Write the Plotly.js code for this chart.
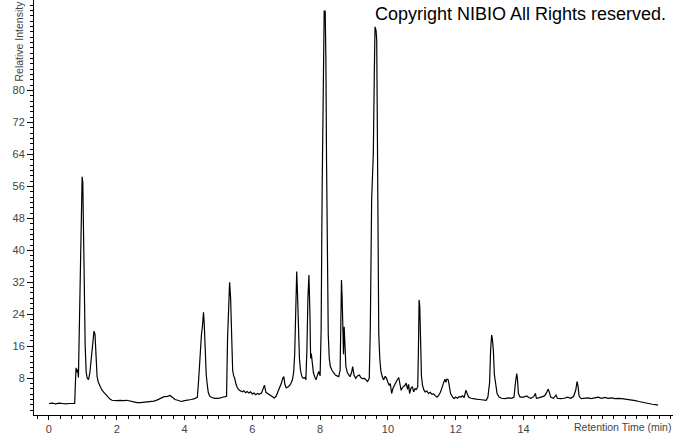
<!DOCTYPE html>
<html>
<head>
<meta charset="utf-8">
<script src="https://cdn.plot.ly/plotly-3.0.1.min.js"></script>
<style>html,body{margin:0;padding:0;background:#fff;}#chart{width:674px;height:434px;}</style>
</head>
<body>
<div id="chart"></div>
<script>
const retentionTime = [
  0.00,0.10,0.20,0.30,0.40,0.50,0.60,0.70,0.76,0.78,0.80,0.83,0.85,0.87,0.90,0.93,0.96,0.98,1.00,1.02,
  1.04,1.07,1.10,1.13,1.17,1.21,1.25,1.29,1.33,1.36,1.39,1.42,1.45,1.48,1.52,1.57,1.62,1.68,1.74,1.80,
  1.86,1.92,2.00,2.10,2.20,2.30,2.40,2.50,2.60,2.70,2.80,2.90,3.00,3.10,3.20,3.30,3.40,3.50,3.57,3.65,
  3.72,3.80,3.90,4.00,4.10,4.20,4.30,4.38,4.42,4.46,4.50,4.53,4.56,4.58,4.61,4.64,4.67,4.70,4.74,4.80,
  4.90,5.00,5.10,5.20,5.24,5.27,5.30,5.33,5.36,5.39,5.42,5.45,5.48,5.52,5.56,5.62,5.70,5.75,5.80,5.85,
  5.90,5.95,6.00,6.05,6.10,6.15,6.20,6.27,6.32,6.36,6.40,6.45,6.50,6.55,6.60,6.65,6.70,6.76,6.81,6.86,
  6.90,6.93,6.96,7.00,7.06,7.12,7.18,7.22,7.25,7.28,7.31,7.33,7.36,7.39,7.42,7.46,7.50,7.55,7.58,7.61,
  7.64,7.67,7.70,7.72,7.74,7.77,7.80,7.84,7.88,7.92,7.96,8.00,8.03,8.06,8.09,8.12,8.15,8.17,8.19,8.21,
  8.24,8.27,8.30,8.35,8.40,8.45,8.50,8.55,8.59,8.61,8.63,8.65,8.67,8.69,8.71,8.73,8.76,8.80,8.85,8.88,
  8.93,8.96,9.00,9.05,9.10,9.16,9.20,9.25,9.31,9.36,9.40,9.45,9.48,9.52,9.55,9.57,9.60,9.62,9.65,9.67,
  9.69,9.71,9.73,9.76,9.79,9.83,9.87,9.92,9.96,10.00,10.04,10.07,10.11,10.15,10.20,10.26,10.32,10.36,10.39,10.44,
  10.50,10.54,10.58,10.61,10.64,10.68,10.72,10.76,10.80,10.84,10.88,10.90,10.92,10.94,10.96,10.99,11.02,11.06,11.10,11.15,
  11.20,11.25,11.30,11.35,11.40,11.45,11.50,11.55,11.60,11.64,11.68,11.71,11.74,11.78,11.82,11.85,11.90,11.95,12.00,12.05,
  12.10,12.15,12.20,12.25,12.30,12.34,12.38,12.45,12.50,12.60,12.70,12.80,12.90,12.95,13.00,13.03,13.06,13.08,13.11,13.14,
  13.18,13.22,13.28,13.35,13.45,13.55,13.65,13.72,13.76,13.80,13.82,13.85,13.90,14.00,14.10,14.15,14.22,14.30,14.35,14.38,
  14.45,14.55,14.62,14.68,14.73,14.77,14.80,14.88,14.93,14.96,15.00,15.10,15.20,15.30,15.40,15.48,15.54,15.58,15.61,15.64,
  15.70,15.80,15.90,16.00,16.10,16.20,16.30,16.40,16.50,16.60,16.70,16.80,16.90,17.00,17.10,17.20,17.30,17.40,17.50,17.60,
  17.70,17.80,17.90,17.97
];
const relativeIntensity = [
  1.7,1.8,1.6,1.8,1.7,1.6,1.7,1.7,1.7,6.5,10.6,9.5,10.2,8.2,22,38,52,58.4,57,45,
  30,16,9.5,8.0,7.7,9.5,13,17.5,19.8,19,14,8.5,7.2,6.5,5.8,5.0,4.5,3.9,3.3,2.8,
  2.5,2.4,2.4,2.5,2.4,2.5,2.3,2.1,1.9,1.9,2.0,2.0,2.1,2.3,2.6,3.0,3.4,3.5,3.7,3.2,
  2.7,2.5,2.2,2.4,2.5,2.7,2.9,3.3,8,15,19,21,24.5,22,15,9,6.5,4.5,3.6,3.2,
  3.0,3.0,3.2,3.3,3.5,18,27,32,28,18,10,8.6,8.0,6.5,5.6,5.0,4.6,4.9,4.4,4.7,
  4.3,4.6,4.1,4.3,3.9,4.2,4.0,4.3,5.5,6.3,4.5,4.2,4.0,3.7,3.4,3.1,3.5,4.8,5.5,6.8,
  8.0,8.4,6.5,5.6,5.9,6.4,7.5,9.5,14,26,34.7,30,20,13,10.1,8.5,8.0,8.2,7.6,15,
  28,33.8,24,13,14.2,11,9.5,8.4,7.6,8.8,9.7,8.6,20,55,90,99.8,99.8,88,62,35,
  19,13,11,10,9.5,8.8,8.6,8.4,10,22,32.6,28,18,14,20.9,16,11,9.5,8.7,8.4,
  9.5,10.9,8.8,8.0,8.6,8.8,8.2,7.9,8.0,7.5,7.2,8.0,20,52.6,60,64.3,85,95.9,95,92.6,
  69,36,19.2,13,10,8.5,7.6,8.5,8.0,7.0,6.2,6.7,4.2,5.5,6.5,7.4,8.2,6.5,5.0,5.8,
  6.2,6.8,5.2,6.5,4.2,5.5,5.9,4.6,5.4,5.2,5.9,15,27.6,26,15.1,8.5,6.3,5.1,4.6,4.8,
  4.2,4.5,4.0,4.1,3.6,3.3,3.8,4.5,5.8,6.7,7.8,7.0,7.8,7.6,5.2,4.2,3.4,2.9,3.3,3.0,
  3.4,3.3,3.6,3.2,5.0,4.0,3.3,3.0,2.9,2.8,2.7,2.6,2.5,3.3,7,15.1,18.8,18,15.1,9,
  5.9,4.2,3.3,3.0,2.9,3.1,3.0,3.3,6.7,9.2,8.0,4.2,3.3,3.3,3.6,3.2,3.0,3.4,4.2,3.0,
  3.1,3.3,3.6,4.4,5.3,4.3,3.3,3.0,3.5,3.8,3.0,2.9,3.0,3.3,3.0,3.5,5.0,7.2,6.0,3.5,
  2.9,3.0,3.1,2.9,3.2,3.3,3.0,3.2,3.0,3.1,2.9,3.0,2.9,2.8,2.7,2.5,2.4,2.2,2.0,1.8,
  1.6,1.5,1.4,1.3
];
const xTickVals = [0,2,4,6,8,10,12,14];
const yTickVals = [8,16,24,32,40,48,56,64,72,80];

const trace = {
  x: retentionTime, y: relativeIntensity, type: 'scatter', mode: 'lines',
  line: {color: '#000000', width: 1.2}, hoverinfo: 'skip'
};
const tickFont = {family: 'Liberation Sans, Arial, sans-serif', size: 11, color: '#444444'};
const layout = {
  width: 674, height: 434,
  margin: {l: 34, r: 1, t: 0, b: 19, pad: 0},
  paper_bgcolor: '#ffffff', plot_bgcolor: '#ffffff',
  showlegend: false,
  xaxis: {
    range: [-0.44, 18.41], showgrid: false, zeroline: false,
    showline: true, linecolor: '#000000', linewidth: 1,
    tickmode: 'array', tickvals: xTickVals, ticks: 'outside', ticklen: 4, tickcolor: '#000000', tickwidth: 1,
    tickfont: tickFont, ticklabelstandoff: 0,
    minor: {dtick: 1/3, tick0: 0, ticks: 'outside', ticklen: 3, tickcolor: '#000000', showgrid: false}
  },
  yaxis: {
    range: [-1.18, 102.6], showgrid: false, zeroline: false,
    showline: true, linecolor: '#000000', linewidth: 1,
    tickmode: 'array', tickvals: yTickVals, ticks: 'outside', ticklen: 6, tickcolor: '#000000', tickwidth: 1,
    tickfont: tickFont,
    minor: {dtick: 4/3, tick0: 0, ticks: 'outside', ticklen: 3, tickcolor: '#000000', showgrid: false}
  },
  annotations: [
    {text: 'Copyright NIBIO All Rights reserved.', xref: 'paper', yref: 'paper',
     x: (668-34)/639, y: 1 - 14/415, xanchor: 'right', yanchor: 'middle', showarrow: false,
     font: {family: 'Liberation Sans, Arial, sans-serif', size: 18, color: '#000000'}},
    {text: 'Retention Time (min)', xref: 'paper', yref: 'paper',
     x: 1.0, y: -12/415, xanchor: 'right', yanchor: 'middle', showarrow: false,
     font: {family: 'Liberation Sans, Arial, sans-serif', size: 10.5, color: '#444444'}},
    {text: 'Relative Intensity', xref: 'paper', yref: 'paper', textangle: -90,
     x: (18-34)/639, y: 1, xanchor: 'center', yanchor: 'top', showarrow: false, borderpad: 0,
     font: {family: 'Liberation Sans, Arial, sans-serif', size: 10.5, color: '#444444'}}
  ]
};
Plotly.newPlot('chart', [trace], layout, {staticPlot: true, displayModeBar: false});
</script>
</body>
</html>
